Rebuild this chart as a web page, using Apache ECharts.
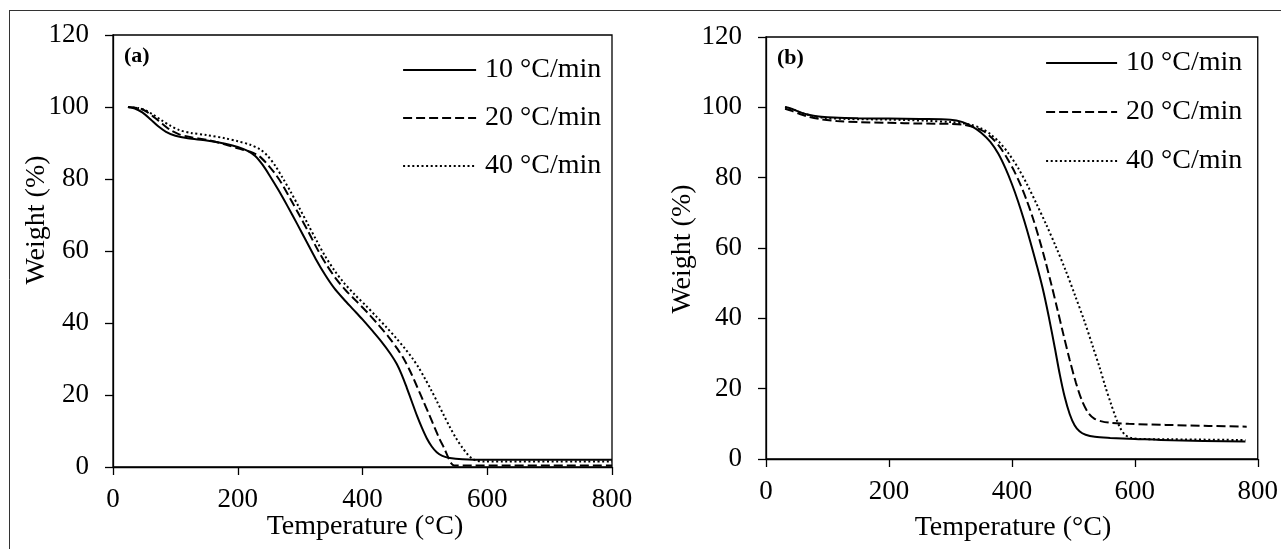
<!DOCTYPE html>
<html><head><meta charset="utf-8">
<script src="https://cdn.jsdelivr.net/npm/echarts@6/dist/echarts.min.js"></script>
<style>html,body{margin:0;padding:0;background:#fff}#c{width:1281px;height:549px}</style>
</head><body><div id="c"></div>
<script>
const FONT = "'Liberation Serif','Times New Roman',serif";
const seriesNames = ['10 °C/min', '20 °C/min', '40 °C/min'];
const panelLabels = ['(a)', '(b)'];
const xTitle = 'Temperature (°C)';
const yTitle = 'Weight (%)';

// Panel (a): [temperature °C, weight %]
const a10 = [[24,100],[35,99.6],[47,98.5],[60,96.6],[72,94.7],[85,93.1],[100,92.0],[120,91.3],[150,90.7],[180,89.8],[200,88.9],[215,87.9],[228,86.4],[240,83.9],[252,80.7],[265,77.0],[280,72.4],[295,67.6],[310,62.7],[325,57.8],[340,53.4],[355,49.6],[370,46.6],[385,43.8],[400,41.0],[415,38.0],[430,34.9],[445,31.4],[455,28.6],[463,25.6],[471,22.0],[479,18.2],[487,14.4],[495,11.0],[503,8.0],[511,5.7],[519,4.1],[528,3.1],[540,2.5],[560,2.15],[600,2.0],[800,2.0]];
const a20 = [[24,100],[43,99.6],[55,98.6],[67,97.0],[80,95.2],[92,93.6],[106,92.4],[125,91.6],[150,90.9],[180,89.6],[200,88.5],[220,87.6],[234,86.4],[246,84.4],[258,81.9],[270,78.9],[284,74.6],[298,70.2],[313,65.4],[328,60.4],[343,56.0],[358,52.2],[373,49.1],[390,46.1],[408,42.9],[425,39.6],[442,36.1],[456,32.8],[467,29.8],[477,26.4],[487,22.5],[497,18.5],[507,14.5],[516,10.8],[524,7.6],[531,5.2],[537,2.8],[542,1.1],[547,0.45],[560,0.4],[800,0.4]];
const a40 = [[24,100],[40,99.7],[52,99.1],[64,97.9],[78,96.3],[92,94.8],[106,93.6],[125,92.8],[150,92.2],[180,91.3],[200,90.5],[220,89.5],[236,88.2],[248,86.4],[260,83.7],[272,80.3],[285,76.4],[298,72.2],[312,67.6],[326,63.0],[340,58.6],[355,54.6],[370,51.2],[388,47.8],[405,44.9],[421,42.0],[438,38.9],[454,35.8],[468,32.9],[480,30.2],[490,27.6],[500,24.6],[510,21.4],[520,18.0],[530,14.5],[540,11.1],[550,8.0],[560,5.4],[568,3.6],[576,2.3],[584,1.7],[595,1.5],[800,1.5]];

// Panel (b)
const b10 = [[31,100.1],[40,99.7],[50,99.0],[62,98.2],[75,97.7],[90,97.35],[110,97.1],[150,96.9],[200,96.8],[250,96.7],[300,96.5],[320,95.8],[335,94.6],[350,92.8],[365,90.2],[378,86.8],[390,82.5],[400,78.2],[410,73.3],[420,67.8],[430,61.8],[440,55.4],[450,48.6],[460,40.5],[470,31.5],[478,24.0],[486,17.6],[494,12.8],[502,9.6],[510,7.9],[520,6.9],[535,6.3],[560,6.0],[600,5.7],[660,5.3],[780,5.0]];
const b20 = [[31,99.6],[42,99.0],[55,98.1],[70,97.3],[90,96.6],[115,96.1],[150,95.8],[200,95.6],[250,95.4],[300,95.3],[320,95.1],[338,94.4],[354,93.2],[368,91.2],[380,88.8],[392,85.6],[404,81.8],[414,78.0],[424,73.6],[434,68.6],[444,62.9],[454,56.6],[464,49.8],[474,42.6],[484,35.3],[494,28.2],[504,21.8],[514,16.6],[524,13.2],[534,11.5],[546,10.7],[560,10.3],[590,10.0],[650,9.7],[720,9.4],[782,9.2]];
const b40 = [[31,100.0],[45,99.3],[60,98.3],[75,97.6],[95,97.0],[130,96.7],[200,96.5],[260,96.2],[300,95.8],[330,95.2],[350,94.0],[365,92.4],[380,90.0],[395,86.8],[410,82.8],[425,78.0],[440,72.6],[456,66.6],[472,60.2],[488,53.4],[503,46.4],[518,39.2],[532,31.8],[543,25.9],[552,20.6],[561,15.8],[569,11.8],[576,8.9],[584,6.9],[594,6.0],[610,5.7],[660,5.6],[780,5.4]];

const xMin = 0, xMax = 800, xInterval = 200;
const yMin = 0, yMax = 120, yInterval = 20;

const lineTypes = ['solid', [9, 4], [2, 2.6]];

function mkSeries(name, data, idx, typeIdx) {
  return {
    name: name, type: 'line', xAxisIndex: idx, yAxisIndex: idx,
    data: data, symbol: 'none', showSymbol: false,
    smooth: 0.3,
    lineStyle: { color: '#000', width: 2, type: lineTypes[typeIdx] },
    itemStyle: { color: '#000' },
    animation: false
  };
}

function mkX(gi) {
  return {
    type: 'value', gridIndex: gi, min: xMin, max: xMax, interval: xInterval,
    axisLine: { show: true, lineStyle: { color: '#000', width: 1.3 } },
    axisTick: { show: true, inside: false, length: 8, lineStyle: { color: '#000', width: 1.3 } },
    axisLabel: { color: '#000', fontFamily: FONT, fontSize: 27, margin: 19 },
    splitLine: { show: false }
  };
}
function mkY(gi) {
  return {
    type: 'value', gridIndex: gi, min: yMin, max: yMax, interval: yInterval,
    axisLine: { show: true, lineStyle: { color: '#000', width: 1.3 } },
    axisTick: { show: true, inside: false, length: 8, lineStyle: { color: '#000', width: 1.3 } },
    axisLabel: { color: '#000', fontFamily: FONT, fontSize: 27, margin: 24 },
    splitLine: { show: false }
  };
}
function mkLegend(left, top, gap, w) {
  return {
    orient: 'vertical', left: left, top: top, itemGap: gap, padding: 0,
    itemWidth: w, itemHeight: 14, selectedMode: false,
    itemStyle: { opacity: 0 },
    lineStyle: { width: 2.2 },
    textStyle: { color: '#000', fontFamily: FONT, fontSize: 28, padding: [0, 0, 0, 4] },
    data: seriesNames
  };
}

const chart = echarts.init(document.getElementById('c'), null, { renderer: 'canvas' });
chart.setOption({
  backgroundColor: '#fff',
  animation: false,
  grid: [
    { left: 113, top: 35, width: 499, height: 432, show: true, borderColor: '#000', borderWidth: 1.3, backgroundColor: 'transparent' },
    { left: 766, top: 37, width: 492, height: 422, show: true, borderColor: '#000', borderWidth: 1.3, backgroundColor: 'transparent' }
  ],
  xAxis: [mkX(0), mkX(1)],
  yAxis: [mkY(0), mkY(1)],
  legend: [mkLegend(402, 56, 20, 73), mkLegend(1045, 49, 21, 71)],
  series: [
    mkSeries(seriesNames[0], a10, 0, 0),
    mkSeries(seriesNames[1], a20, 0, 1),
    mkSeries(seriesNames[2], a40, 0, 2),
    mkSeries(seriesNames[0], b10, 1, 0),
    mkSeries(seriesNames[1], b20, 1, 1),
    mkSeries(seriesNames[2], b40, 1, 2)
  ],
  graphic: [
    { type: 'line', shape: { x1: 9.5, y1: 10, x2: 9.5, y2: 549 }, style: { stroke: '#333', lineWidth: 1 }, silent: true },
    { type: 'line', shape: { x1: 9, y1: 10.5, x2: 1281, y2: 10.5 }, style: { stroke: '#333', lineWidth: 1 }, silent: true },
    { type: 'text', x: 124, y: 56, style: { text: panelLabels[0], font: 'bold 22px ' + FONT, fill: '#000', textAlign: 'left', textVerticalAlign: 'middle', align: 'left', verticalAlign: 'middle' } },
    { type: 'text', x: 777, y: 58, style: { text: panelLabels[1], font: 'bold 22px ' + FONT, fill: '#000', textAlign: 'left', textVerticalAlign: 'middle', align: 'left', verticalAlign: 'middle' } },
    { type: 'text', x: 365, y: 527, style: { text: xTitle, font: '28px ' + FONT, fill: '#000', textAlign: 'center', textVerticalAlign: 'middle', align: 'center', verticalAlign: 'middle' } },
    { type: 'text', x: 1013, y: 528, style: { text: xTitle, font: '28px ' + FONT, fill: '#000', textAlign: 'center', textVerticalAlign: 'middle', align: 'center', verticalAlign: 'middle' } },
    { type: 'text', x: 37, y: 220, rotation: Math.PI / 2, style: { text: yTitle, font: '28px ' + FONT, fill: '#000', textAlign: 'center', textVerticalAlign: 'middle', align: 'center', verticalAlign: 'middle' } },
    { type: 'text', x: 683, y: 249, rotation: Math.PI / 2, style: { text: yTitle, font: '28px ' + FONT, fill: '#000', textAlign: 'center', textVerticalAlign: 'middle', align: 'center', verticalAlign: 'middle' } }
  ]
});
</script></body></html>
